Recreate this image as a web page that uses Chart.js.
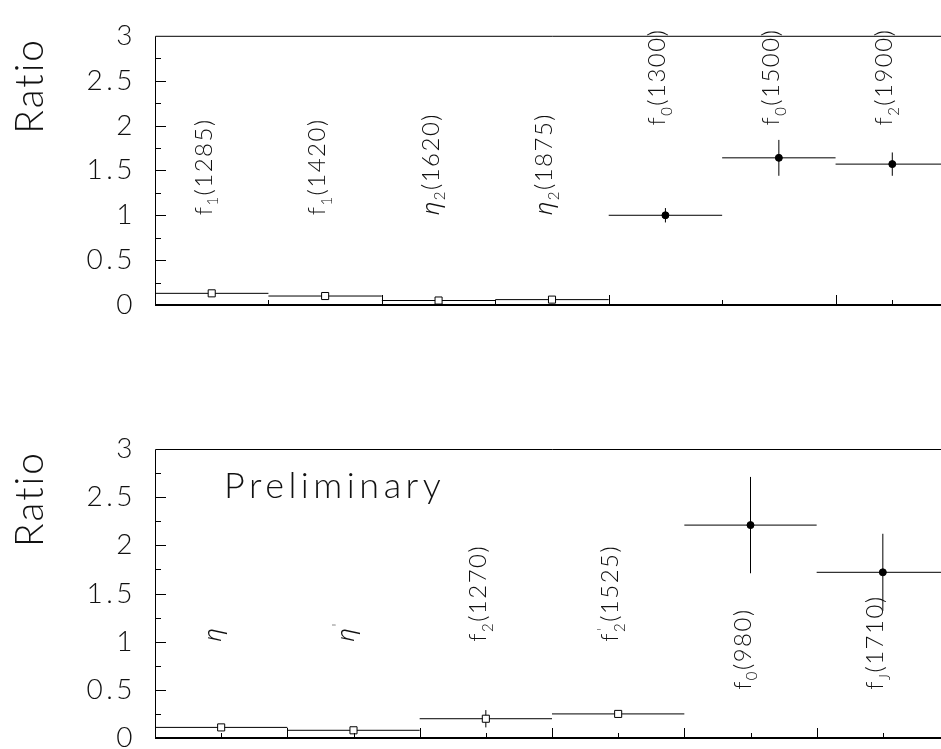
<!DOCTYPE html>
<html>
<head>
<meta charset="utf-8">
<script src="https://cdn.jsdelivr.net/npm/chart.js@4.4.1/dist/chart.umd.min.js"></script>
<style>
  html, body { margin: 0; padding: 0; background: #fff; overflow: hidden; }
  #wrap { position: relative; width: 941px; height: 749px; overflow: hidden; }
  canvas { position: absolute; left: 0; }
  #topChart { top: 0; }
  #bottomChart { top: 375px; }
</style>
</head>
<body>
<div id="wrap">
  <canvas id="topChart" width="960" height="375"></canvas>
  <canvas id="bottomChart" width="960" height="400"></canvas>
</div>
<script>
// top panel
const topLabels = ['f_1(1285)', 'f_1(1420)', 'η_2(1620)', 'η_2(1875)', 'f_0(1300)', 'f_0(1500)', 'f_2(1900)'];
const topRatio = [0.13, 0.10, 0.05, 0.06, 1.00, 1.64, 1.57];
const topError = [0.01, 0.01, 0.01, 0.04, 0.08, 0.20, 0.13];
const topOpen = [true, true, true, true, false, false, false];

// bottom panel
const bottomLabels = ['η', "η'", 'f_2(1270)', "f_2'(1525)", 'f_0(980)', 'f_J(1710)'];
const bottomRatio = [0.11, 0.08, 0.20, 0.25, 2.21, 1.72];
const bottomError = [0.01, 0.01, 0.09, 0.02, 0.50, 0.40];
const bottomOpen = [true, true, true, true, false, false];

const yTickLabels = ['0', '0.5', '1', '1.5', '2', '2.5', '3'];

// x axis tick marks (bin units)
const topMajorTicks = [2, 4, 6];
const topMinorTicks = [1, 3, 5, 6.5];
const bottomMajorTicks = [1, 2, 3, 4, 5];
const bottomMinorTicks = [0.5, 1.5, 2.5, 3.5, 4.5, 5.5];

// where the rotated names start (in Ratio units)
const topLabelAt = [1, 1, 1, 1, 2, 2, 2];
const bottomLabelAt = [1, 1, 1, 1, 0.5, 0.5];

const FONT = 'Lato, "DejaVu Sans", sans-serif';
const GREEK = '"Noto Sans", "DejaVu Sans", sans-serif';
const INK = '#111';

function font(size) {
    return '300 ' + size + 'px ' + FONT;
}

function charFont(c, size) {
    if (/[\u0370-\u03ff]/.test(c)) return 'italic 300 ' + size + 'px ' + GREEK;
    return font(size);
}

// draws text like f_2'(1525) with subscripts, left aligned at the origin
function drawRich(ctx, text, size, spacing) {
    const small = size * 0.62;
    let x = 0;
    for (let i = 0; i < text.length; i++) {
        const c = text[i];
        if (c === '_') {
            const sub = text[i + 1];
            ctx.font = font(small);
            ctx.fillText(sub, x, size * 0.28);
            let w = ctx.measureText(sub).width;
            i++;
            if (text[i + 1] === "'") {
                ctx.fillText("'", x + 1, -size * 0.42);
                i++;
            }
            x += w + spacing;
        } else if (c === "'") {
            ctx.font = font(small);
            ctx.fillText("'", x, -size * 0.42);
            x += ctx.measureText("'").width + spacing;
        } else {
            ctx.font = charFont(c, size);
            ctx.fillText(c, x, 0);
            x += ctx.measureText(c).width + spacing;
        }
    }
}

function panelPlugin(p) {
    return {
        id: 'panel',
        beforeDraw(chart) {
            chart.ctx.letterSpacing = '3.5px';
        },
        beforeDatasetsDraw(chart) {
            const ctx = chart.ctx;
            const xs = chart.scales.x, ys = chart.scales.y;
            ctx.save();
            ctx.strokeStyle = '#000';
            ctx.lineWidth = 1;
            p.values.forEach((v, i) => {
                const y = ys.getPixelForValue(v);
                const xc = xs.getPixelForValue(i + 0.5);
                ctx.beginPath();
                ctx.moveTo(xs.getPixelForValue(i), y);
                ctx.lineTo(xs.getPixelForValue(i + 1), y);
                ctx.moveTo(xc, ys.getPixelForValue(v - p.errors[i]));
                ctx.lineTo(xc, ys.getPixelForValue(v + p.errors[i]));
                ctx.stroke();
            });
            ctx.restore();
        },
        afterDraw(chart) {
            const ctx = chart.ctx;
            const a = chart.chartArea;
            const xs = chart.scales.x, ys = chart.scales.y;
            ctx.save();
            ctx.letterSpacing = '0px';
            ctx.strokeStyle = '#000';

            // frame
            ctx.lineWidth = 1;
            ctx.beginPath();
            ctx.moveTo(a.left + 0.5, a.bottom);
            ctx.lineTo(a.left + 0.5, a.top + 0.5);
            ctx.lineTo(a.right, a.top + 0.5);
            ctx.stroke();
            ctx.lineWidth = 2;
            ctx.beginPath();
            ctx.moveTo(a.left, a.bottom);
            ctx.lineTo(a.right, a.bottom);
            ctx.stroke();

            // y ticks, pointing inwards
            ctx.lineWidth = 1;
            ctx.beginPath();
            for (let k = 1; k < 12; k++) {
                const y = Math.round(ys.getPixelForValue(k * 0.25)) + 0.5;
                ctx.moveTo(a.left, y);
                ctx.lineTo(a.left + (k % 2 === 0 ? 11 : 6), y);
            }
            // x ticks, pointing up
            p.major.forEach(t => {
                const x = Math.round(xs.getPixelForValue(t)) + 0.5;
                ctx.moveTo(x, a.bottom);
                ctx.lineTo(x, a.bottom - 10);
            });
            p.minor.forEach(t => {
                const x = Math.round(xs.getPixelForValue(t)) + 0.5;
                ctx.moveTo(x, a.bottom);
                ctx.lineTo(x, a.bottom - 5);
            });
            ctx.stroke();

            ctx.fillStyle = INK;
            ctx.textAlign = 'left';
            ctx.textBaseline = 'alphabetic';

            // axis title
            ctx.save();
            ctx.translate(43, a.top + 50);
            ctx.rotate(-Math.PI / 2);
            ctx.font = font(39);
            ctx.letterSpacing = '2px';
            ctx.textAlign = 'center';
            ctx.fillText('Ratio', 0, 0);
            ctx.restore();

            // rotated particle names
            p.labels.forEach((txt, i) => {
                ctx.save();
                ctx.translate(xs.getPixelForValue(i + 0.5), ys.getPixelForValue(p.labelAt[i]));
                ctx.rotate(-Math.PI / 2);
                drawRich(ctx, txt, 24, 1.5);
                ctx.restore();
            });

            if (p.note) {
                ctx.font = font(36);
                ctx.letterSpacing = '4.5px';
                ctx.fillText(p.note, 224, a.top + 49);
            }
            ctx.restore();
        }
    };
}

function makePanel(id, labels, values, errors, open, major, minor, labelAt, padding, note) {
    const points = values.map((v, i) => ({ x: i + 0.5, y: v }));
    return new Chart(document.getElementById(id), {
        type: 'scatter',
        data: {
            datasets: [{
                data: points,
                pointStyle: open.map(o => o ? 'rect' : 'circle'),
                pointRadius: open.map(o => o ? 5 : 3.5),
                backgroundColor: open.map(o => o ? '#fff' : '#000'),
                borderColor: '#000',
                borderWidth: 1,
                showLine: false
            }]
        },
        options: {
            responsive: false,
            animation: false,
            events: [],
            layout: { padding: padding },
            plugins: { legend: { display: false }, tooltip: { enabled: false } },
            scales: {
                x: {
                    type: 'linear',
                    display: false,
                    min: 0,
                    max: labels.length
                },
                y: {
                    min: 0,
                    max: 3,
                    grid: { display: false, drawTicks: false },
                    border: { display: false },
                    afterFit(scale) { scale.width = 155; },
                    ticks: {
                        stepSize: 0.5,
                        autoSkip: false,
                        padding: 19,
                        color: INK,
                        font: { family: FONT, size: 28, weight: '300' },
                        callback: (v) => yTickLabels[Math.round(v * 2)]
                    }
                }
            }
        },
        plugins: [panelPlugin({ labels, values, errors, major, minor, labelAt, note })]
    });
}

makePanel('topChart', topLabels, topRatio, topError, topOpen,
    topMajorTicks, topMinorTicks, topLabelAt,
    { left: 0, top: 16, right: 11, bottom: 70 }, null);

makePanel('bottomChart', bottomLabels, bottomRatio, bottomError, bottomOpen,
    bottomMajorTicks, bottomMinorTicks, bottomLabelAt,
    { left: 0, top: 74, right: 11, bottom: 37 }, 'Preliminary');
</script>
</body>
</html>
